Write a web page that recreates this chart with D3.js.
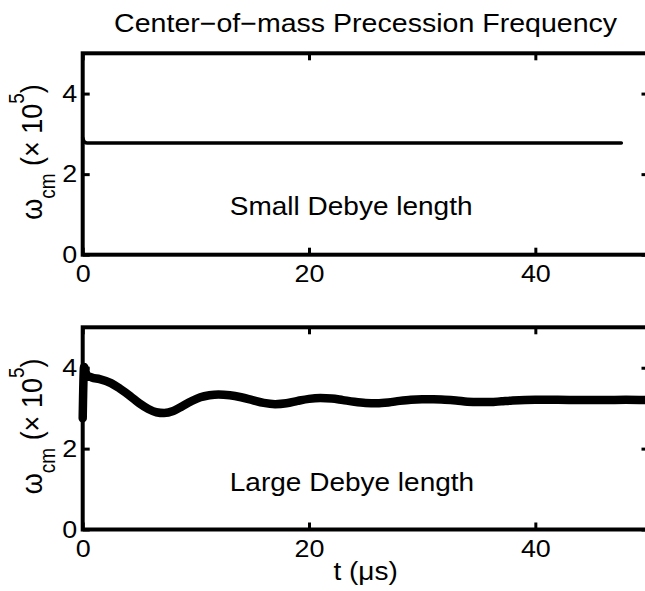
<!DOCTYPE html>
<html>
<head>
<meta charset="utf-8">
<script src="https://cdn.jsdelivr.net/npm/d3@7"></script>
<style>body{margin:0;background:#fff}</style>
</head>
<body>
<div id="chart"></div>
<script>
var title="Center−of−mass Precession Frequency";
var xTicks=[0,20,40];
var yTicks=[0,2,4];
var panelLabels=["Small Debye length","Large Debye length"];
var labelPos=[[13.0,0.99],[13.0,0.94]];

// small Debye length: flat after a tiny start transient
var tSmall=[0,0.15,0.4,47.6];
var wSmall=[2.9,2.8,2.77,2.77];

// large Debye length: damped oscillation
var tLarge=[0,0.12,0.35,0.8,1.5,2.5,3.3,4.2,5.0,5.8,6.5,7.2,8.0,8.8,9.6,10.4,11.2,12.0,13.0,14.0,15.0,16.0,17.0,18.0,19.0,20.0,21.0,22.0,23.0,24.0,25.0,26.0,27.0,28.0,29.0,30.0,31.0,32.0,33.0,34.0,35.0,36.0,37.0,38.0,40.0,42.0,44.0,46.0,48.0,50.0];
var wLarge=[2.75,4.02,3.82,3.76,3.72,3.62,3.48,3.3,3.12,2.98,2.9,2.88,2.93,3.05,3.17,3.27,3.32,3.34,3.32,3.27,3.2,3.13,3.1,3.12,3.18,3.23,3.25,3.24,3.2,3.16,3.13,3.12,3.14,3.18,3.21,3.22,3.22,3.21,3.19,3.16,3.15,3.15,3.17,3.19,3.21,3.21,3.2,3.2,3.21,3.2];

draw()
function draw(){
var width=645,height=591
var SX=1.12  // picture is a little stretched sideways
var font="'Liberation Sans', Arial, sans-serif"

var svg=d3.select("#chart").append("svg")
	.attr("width",width)
	.attr("height",height)
	.style("font-family",font)

var x=d3.scaleLinear().domain([0,50]).range([82.7,648.5])

var panels=[
	{top:53.3,bottom:254.7,t:tSmall,w:wSmall,lw:3.5},
	{top:327.3,bottom:529.5,t:tLarge,w:wLarge,lw:8.5}
]

panels.forEach(function(p,k){
	var y=d3.scaleLinear().domain([0,5]).range([p.bottom,p.top])
	var g=svg.append("g")

	var line=d3.line()
		.x(function(i){return x(p.t[i])})
		.y(function(i){return y(p.w[i])})
		.curve(d3.curveMonotoneX)
	g.append("path")
		.attr("d",line(d3.range(p.t.length)))
		.attr("fill","none")
		.attr("stroke","#000")
		.attr("stroke-width",p.lw)
		.attr("stroke-linejoin","round")
		.attr("stroke-linecap","round")

	function style(a){
		a.select(".domain").remove()
		a.selectAll(".tick line").attr("stroke","#000").attr("stroke-width",3)
		a.attr("font-size",24).attr("font-family",font)
		a.selectAll(".tick text").attr("fill","#000").attr("transform","scale("+SX+",1)")
	}

	g.append("g").attr("transform","translate(0,"+p.bottom+")")
		.call(d3.axisBottom(x).tickValues(xTicks).tickSizeInner(-7).tickSizeOuter(0).tickPadding(10).tickFormat(d3.format("d")))
		.call(style)
	g.append("g").attr("transform","translate(0,"+p.top+")")
		.call(d3.axisTop(x).tickValues(xTicks).tickSizeInner(-7).tickSizeOuter(0).tickFormat(""))
		.call(style)
	g.append("g").attr("transform","translate("+x.range()[0]+",0)")
		.call(d3.axisLeft(y).tickValues(yTicks).tickSizeInner(-7).tickSizeOuter(0).tickPadding(5).tickFormat(d3.format("d")))
		.call(style)
	g.append("g").attr("transform","translate("+x.range()[1]+",0)")
		.call(d3.axisRight(y).tickValues(yTicks).tickSizeInner(-7).tickSizeOuter(0).tickFormat(""))
		.call(style)

	g.append("rect")
		.attr("x",x(0)).attr("y",y(5))
		.attr("width",x(50)-x(0)).attr("height",y(0)-y(5))
		.attr("fill","none").attr("stroke","#000").attr("stroke-width",4)

	// y label
	var yl=g.append("text")
		.attr("transform","translate(41.5,"+((p.top+p.bottom)/2-2)+") scale("+SX+",1) rotate(-90)")
		.attr("text-anchor","middle")
		.attr("font-size",27)
	yl.append("tspan").text("ω")
	yl.append("tspan").attr("font-size",19).attr("dy",12).text("cm")
	yl.append("tspan").attr("dy",-12).text(" (× 10")
	yl.append("tspan").attr("font-size",19).attr("dy",-16).text("5")
	yl.append("tspan").attr("dy",16).text(")")

	g.append("text")
		.attr("transform","translate("+x(labelPos[k][0])+","+y(labelPos[k][1])+") scale("+SX+",1)")
		.attr("font-size",25)
		.text(panelLabels[k])
})

svg.append("text")
	.attr("transform","translate("+d3.mean(x.range())+",31.7) scale("+SX+",1)")
	.attr("text-anchor","middle")
	.attr("font-size",25.5)
	.text(title)

svg.append("text")
	.attr("transform","translate("+d3.mean(x.range())+",580) scale("+SX+",1)")
	.attr("text-anchor","middle")
	.attr("font-size",25)
	.text("t (μs)")
}
</script>
</body>
</html>
